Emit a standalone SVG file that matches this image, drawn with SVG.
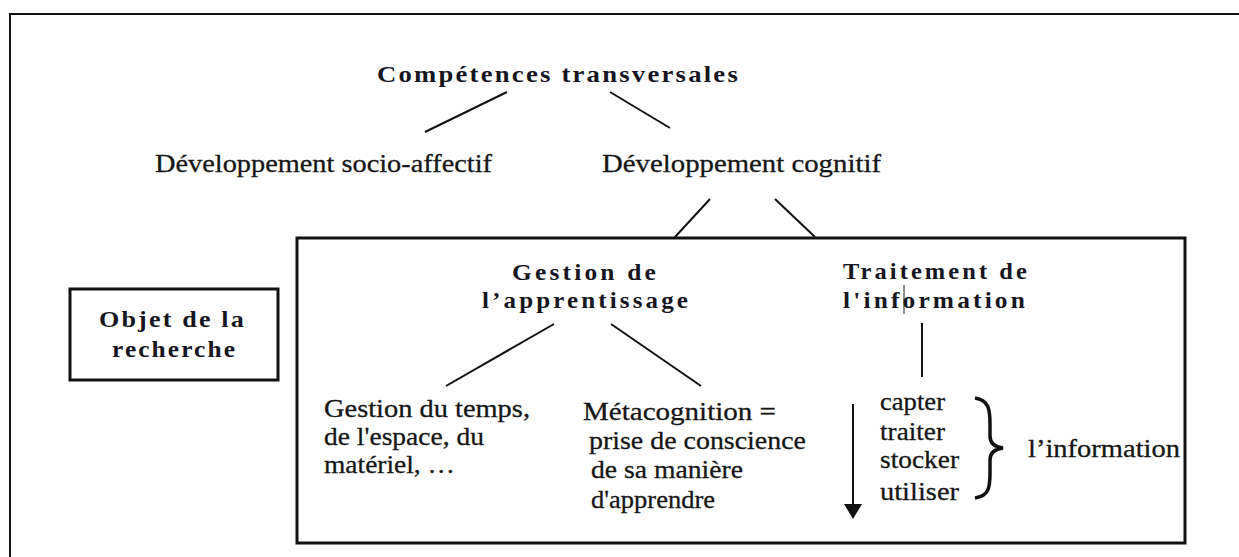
<svg xmlns="http://www.w3.org/2000/svg" width="1239" height="557" viewBox="0 0 1239 557">
  <style>
    .t { font-family: "Liberation Serif", "DejaVu Serif", serif; font-size: 26px; fill: #161616; stroke: #161616; stroke-width: 0.3px; }
    .b { font-family: "Liberation Serif", "DejaVu Serif", serif; font-size: 24px; font-weight: bold; fill: #161622; }
    .frame { fill: none; stroke: #111; }
    .link { stroke: #111; stroke-width: 2; fill: none; }
  </style>
  <rect width="1239" height="557" fill="#fff"/>

  <!-- outer frame (right and bottom edges run off the page) -->
  <path class="frame" d="M10,557 V14 H1239" stroke-width="2"/>

  <g id="competences">
    <text class="b" x="377" y="82" font-size="27" textLength="363" lengthAdjust="spacingAndGlyphs" letter-spacing="2">Compétences transversales</text>
  </g>

  <g id="socio-affectif">
    <text class="t" x="155" y="172" textLength="337" lengthAdjust="spacingAndGlyphs">Développement socio-affectif</text>
  </g>

  <g id="cognitif">
    <text class="t" x="602" y="172" textLength="279" lengthAdjust="spacingAndGlyphs">Développement cognitif</text>
  </g>

  <g id="objet-recherche">
    <rect class="frame" x="70" y="289" width="208" height="91" stroke-width="3"/>
    <text class="b" x="99" y="327" textLength="147" lengthAdjust="spacingAndGlyphs" letter-spacing="2">Objet de la</text>
    <text class="b" x="112" y="357" textLength="125" lengthAdjust="spacingAndGlyphs" letter-spacing="2">recherche</text>
  </g>

  <g id="zone-recherche">
    <rect class="frame" x="297" y="238" width="888" height="305" stroke-width="3"/>
  </g>

  <g id="gestion-apprentissage">
    <text class="b" x="512" y="280" textLength="147" lengthAdjust="spacingAndGlyphs" letter-spacing="3">Gestion de</text>
    <text class="b" x="482" y="308" textLength="209" lengthAdjust="spacingAndGlyphs" letter-spacing="3">l’apprentissage</text>
  </g>

  <g id="traitement-information">
    <text class="b" x="843" y="279" textLength="187" lengthAdjust="spacingAndGlyphs" letter-spacing="3">Traitement de</text>
    <text class="b" x="843" y="308" textLength="185" lengthAdjust="spacingAndGlyphs" letter-spacing="3">l'information</text>
    <!-- stray caret mark inside the word -->
    <line x1="904" y1="285" x2="904" y2="314" stroke="#222" stroke-width="1"/>
  </g>

  <g id="gestion-temps">
    <text class="t" x="324" y="417" textLength="206" lengthAdjust="spacingAndGlyphs">Gestion du temps,</text>
    <text class="t" x="324" y="445" textLength="160" lengthAdjust="spacingAndGlyphs">de l'espace, du</text>
    <text class="t" x="324" y="473" textLength="131" lengthAdjust="spacingAndGlyphs">matériel, …</text>
  </g>

  <g id="metacognition">
    <text class="t" x="583" y="420" textLength="193" lengthAdjust="spacingAndGlyphs">Métacognition =</text>
    <text class="t" x="589" y="449" textLength="217" lengthAdjust="spacingAndGlyphs">prise de conscience</text>
    <text class="t" x="591" y="478" textLength="152" lengthAdjust="spacingAndGlyphs">de sa manière</text>
    <text class="t" x="591" y="508" textLength="124" lengthAdjust="spacingAndGlyphs">d'apprendre</text>
  </g>

  <g id="etapes">
    <text class="t" x="880" y="410" textLength="65" lengthAdjust="spacingAndGlyphs">capter</text>
    <text class="t" x="880" y="440" textLength="65" lengthAdjust="spacingAndGlyphs">traiter</text>
    <text class="t" x="880" y="468" textLength="79" lengthAdjust="spacingAndGlyphs">stocker</text>
    <text class="t" x="880" y="500" textLength="79" lengthAdjust="spacingAndGlyphs">utiliser</text>
  </g>

  <g id="information">
    <text class="t" x="1028" y="457" textLength="152" lengthAdjust="spacingAndGlyphs">l’information</text>
  </g>

  <g id="connectors">
    <line class="link" x1="507" y1="92" x2="425" y2="132"/>
    <line class="link" x1="610" y1="92" x2="670" y2="128"/>
    <line class="link" x1="710" y1="199" x2="675" y2="237"/>
    <line class="link" x1="775" y1="199" x2="815" y2="237"/>
    <line class="link" x1="554" y1="324" x2="446" y2="386"/>
    <line class="link" x1="611" y1="324" x2="701" y2="386"/>
    <line class="link" x1="922" y1="323" x2="922" y2="377" stroke-width="2.5"/>
    <!-- downward sequence arrow -->
    <line class="link" x1="853" y1="404" x2="853" y2="506"/>
    <polygon points="844,504 862,504 853,519" fill="#111"/>
    <!-- brace grouping the four verbs -->
    <path d="M975,398 C989,400 990,410 990,424 L990,436 C990,444 995,447 1003,448 C995,449 990,452 990,460 L990,473 C990,487 989,496 975,498" fill="none" stroke="#111" stroke-width="3.5"/>
  </g>
</svg>
